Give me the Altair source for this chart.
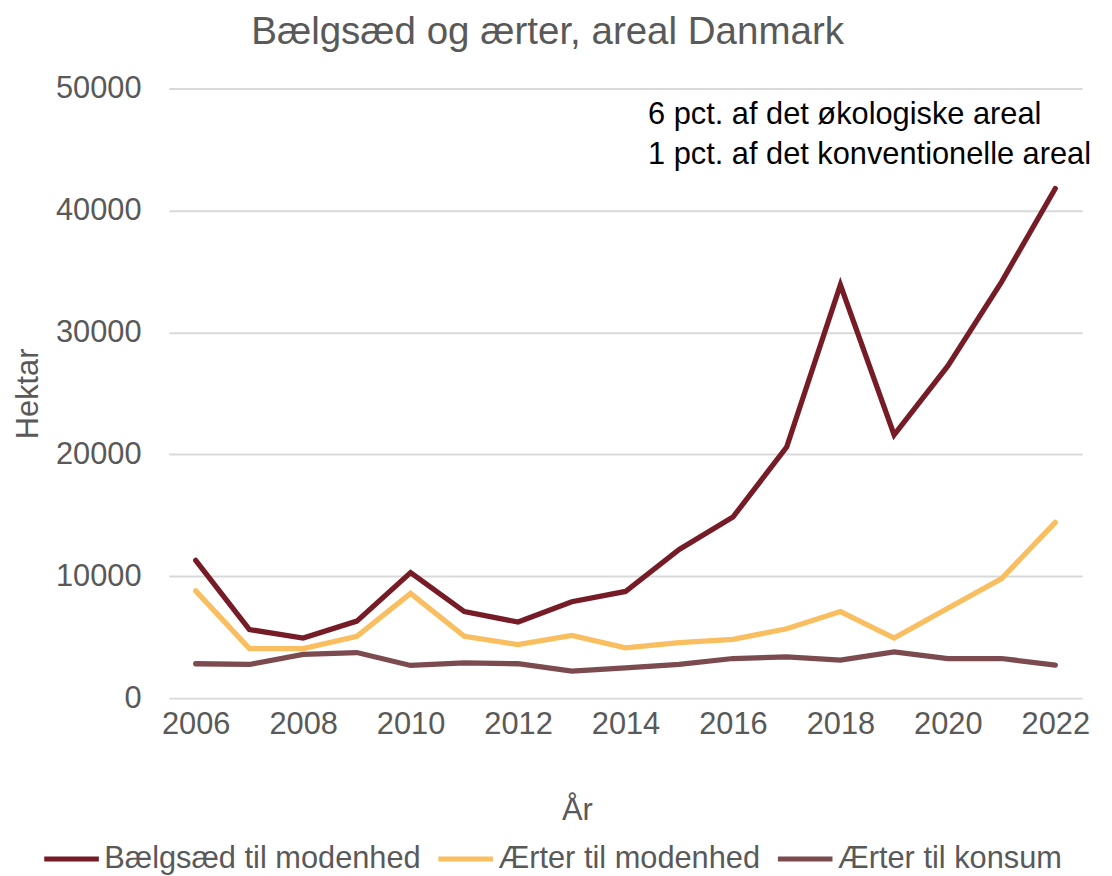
import altair as alt
import pandas as pd

years = list(range(2006, 2023))
baelgsaed_modenhed = [11300, 5630, 4930, 6320, 10300, 7100, 6240, 7910, 8750, 12200,
                      14850, 20600, 33900, 21600, 27250, 34150, 41800]
aerter_modenhed = [8800, 4070, 4070, 5070, 8590, 5070, 4390, 5150, 4120, 4550,
                   4820, 5690, 7100, 4930, 7370, 9810, 14420]
aerter_konsum = [2820, 2760, 3580, 3740, 2680, 2900, 2820, 2220, 2490, 2760,
                 3250, 3390, 3120, 3800, 3250, 3250, 2710]
series_names = ["Bælgsæd til modenhed", "Ærter til modenhed", "Ærter til konsum"]
series_colors = ["#761C27", "#F9BE5F", "#7B4B50"]

annot_text = ["6 pct. af det økologiske areal", "1 pct. af det konventionelle areal"]
annot_x = [2014.42, 2014.42]
annot_y = [47100, 43850]

rows = []
for name, vals in zip(series_names, [baelgsaed_modenhed, aerter_modenhed, aerter_konsum]):
    for yr, v in zip(years, vals):
        rows.append({"År": yr, "Hektar": v, "Serie": name})
df = pd.DataFrame(rows)
annot = pd.DataFrame({"x": annot_x, "y": annot_y, "t": annot_text})

FONT = "Liberation Sans"
GRAY = "#595959"

xscale = alt.Scale(domain=[2005.5, 2022.5], nice=False, zero=False)
yscale = alt.Scale(domain=[0, 50000], nice=False)

lines = alt.Chart(df).mark_line(strokeWidth=5.3, strokeCap="round", strokeJoin="miter").encode(
    x=alt.X("År:Q", scale=xscale,
            axis=alt.Axis(values=list(range(2006, 2023, 2)), format="d", grid=False,
                          ticks=False, domain=False, labelFontSize=31, labelFont=FONT,
                          labelColor=GRAY, labelPadding=12, title="År",
                          titleFontSize=31, titleFont=FONT, titleColor=GRAY,
                          titleFontWeight="normal", titleX=411, titleY=122,
                          titleBaseline="alphabetic")),
    y=alt.Y("Hektar:Q", scale=yscale,
            axis=alt.Axis(values=[0, 10000, 20000, 30000, 40000, 50000], format="d",
                          ticks=False, domain=False, gridColor="#D9D9D9", gridWidth=2,
                          labelFontSize=31, labelFont=FONT, labelColor=GRAY,
                          labelPadding=28, title="Hektar", titleFontSize=31,
                          titleFont=FONT, titleColor=GRAY, titleFontWeight="normal",
                          titleX=-141, titleY=307, titleBaseline="middle")),
    color=alt.Color("Serie:N", sort=series_names,
                    scale=alt.Scale(domain=series_names, range=series_colors),
                    legend=alt.Legend(orient="none", legendX=-128, legendY=746,
                                      direction="horizontal", title=None,
                                      symbolType="stroke", symbolSize=3025,
                                      symbolStrokeWidth=5, labelFontSize=31,
                                      labelFont=FONT, labelColor=GRAY, labelOffset=3,
                                      columnPadding=7, labelLimit=500)),
)

text = alt.Chart(annot).mark_text(align="left", baseline="alphabetic", fontSize=31,
                                  font=FONT, color="#000000").encode(
    x=alt.X("x:Q", scale=xscale), y=alt.Y("y:Q", scale=yscale), text="t:N")

chart = alt.layer(lines, text).properties(
    width=920, height=614,
    background="white",
    title=alt.Title("Bælgsæd og ærter, areal Danmark", anchor="start", frame="group",
                    dx=83, offset=21, fontSize=38.8, font=FONT, color=GRAY,
                    fontWeight="normal"),
    autosize=alt.AutoSizeParams(type="none"),
    padding={"left": 162, "top": 78, "right": 22, "bottom": 176},
).configure_view(stroke=None, strokeWidth=0)

chart.save("out.html", embed_options={"renderer": "svg", "actions": False})
